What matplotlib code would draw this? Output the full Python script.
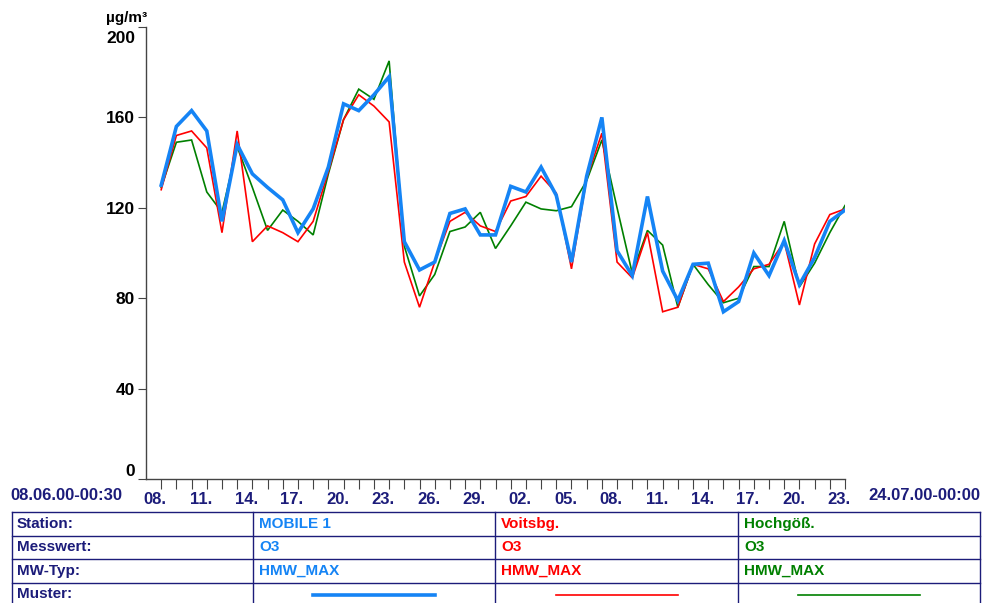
import matplotlib.pyplot as plt
from matplotlib.transforms import ScaledTranslation

# O3 daily HMW_MAX, 08.06. - 23.07.
days = list(range(46))
day_labels = ["08.", "11.", "14.", "17.", "20.", "23.", "26.", "29.",
              "02.", "05.", "08.", "11.", "14.", "17.", "20.", "23."]

mobile1 = [130, 156, 163, 154, 114, 148, 135, 129, 123.5, 109, 119.5, 138,
           166, 163, 170, 178, 105, 92.5, 96, 117.5, 119.5, 108, 108, 129.5,
           127, 138, 125.5, 96, 134, 160, 101, 90, 125, 92, 79, 95,
           95.5, 74, 78.5, 100, 90, 105.5, 86, 98, 114, 119]
voitsbg = [128, 152, 154, 146.5, 109, 154, 105, 112, 109, 105, 114, 136,
           159, 170, 165, 158, 96, 76, 96, 114, 118, 112, 109.5, 123,
           125, 134, 126.5, 93, 133, 153, 96, 89, 109, 74, 76, 95,
           93, 78.5, 85, 93, 95, 105, 77, 104, 117, 119.5]
hochgoess = [129, 149, 150, 127, 118, 147, 129, 110, 119, 114, 108, 135,
             159, 172.5, 168, 185, 103, 81, 90.5, 109.5, 111.5, 118, 102, 112,
             122.5, 119.5, 118.7, 120.5, 132, 150, 120, 91, 110, 103.5, 76, 95,
             86, 78, 80, 94, 94, 114, 85, 95.5, 109, 121]

stations = ["MOBILE 1", "Voitsbg.", "Hochgöß."]
colors = ["#1584f5", "#ff0000", "#008000"]
widths = [2.6, 1.2, 1.2]
row_names = ["Station:", "Messwert:", "MW-Typ:", "Muster:"]

navy = "#1c1c7a"
plt.rcParams['font.family'] = ['Liberation Sans', 'DejaVu Sans']
plt.rcParams['font.weight'] = 'bold'

fig = plt.figure(figsize=(9.83, 6.03), dpi=100)
ax = fig.add_axes([146 / 983, 1 - 479 / 603, (845 - 146) / 983, (479 - 27) / 603])

# series, thick blue one on top
for vals, c, w, z in zip([mobile1, voitsbg, hochgoess], colors, widths, [3, 2, 1]):
    ax.plot(days, vals, color=c, lw=w, zorder=z, solid_joinstyle='miter')

ax.set_xlim(-1, 45)
ax.set_ylim(0, 200)
for s in ['top', 'right']:
    ax.spines[s].set_visible(False)
for s in ['left', 'bottom']:
    ax.spines[s].set_color('#444444')
    ax.spines[s].set_linewidth(1)

ax.set_yticks([0, 40, 80, 120, 160, 200])
ax.tick_params(axis='y', length=6, color='#444444', labelsize=12.5, labelcolor='black', pad=2)
# 200 sits below its tick, 0 above it
ylabs = ax.get_yticklabels()
ylabs[0].set_transform(ylabs[0].get_transform() + ScaledTranslation(0, 9 / 100, fig.dpi_scale_trans))
ylabs[-1].set_transform(ylabs[-1].get_transform() + ScaledTranslation(0, -10 / 100, fig.dpi_scale_trans))

ax.set_xticks(days)
ax.set_xticklabels([day_labels[i // 3] if i % 3 == 0 else "" for i in days])
ax.tick_params(axis='x', length=7, color='#444444', labelsize=12, labelcolor=navy, pad=2)
shift = ScaledTranslation(-6 / 100, 0, fig.dpi_scale_trans)
for lab in ax.get_xticklabels():
    lab.set_transform(lab.get_transform() + shift)

# overlay in pixel coords for the text and the table
ov = fig.add_axes([0, 0, 1, 1])
ov.set_xlim(0, 983)
ov.set_ylim(603, 0)
ov.axis('off')
ov.patch.set_alpha(0)

ov.text(106, 18, "µg/m³", fontsize=11, color='black', va='center', ha='left')
ov.text(10, 495, "08.06.00-00:30", fontsize=12, color=navy, va='center', ha='left')
ov.text(980, 495, "24.07.00-00:00", fontsize=12, color=navy, va='center', ha='right')

# table
tbl_top = 512
row_h = 23.5
col_x = [12, 253, 495, 738, 980]
for i in range(4):
    y = tbl_top + i * row_h
    ov.plot([col_x[0], col_x[-1]], [y, y], color=navy, lw=1)
for x in col_x:
    ov.plot([x, x], [tbl_top, 604], color=navy, lw=1)

for i, name in enumerate(row_names):
    ov.text(17, tbl_top + (i + 0.5) * row_h, name, fontsize=11, color=navy, va='center')

for j, (st, c, w) in enumerate(zip(stations, colors, widths)):
    x0 = col_x[j + 1] + 6
    for i, txt in enumerate([st, "O3", "HMW_MAX"]):
        ov.text(x0, tbl_top + (i + 0.5) * row_h, txt, fontsize=11, color=c, va='center')
    mid = (col_x[j + 1] + col_x[j + 2]) / 2
    ov.plot([mid - 61, mid + 61], [595, 595], color=c, lw=w)

fig.savefig("out.png", dpi=100)
